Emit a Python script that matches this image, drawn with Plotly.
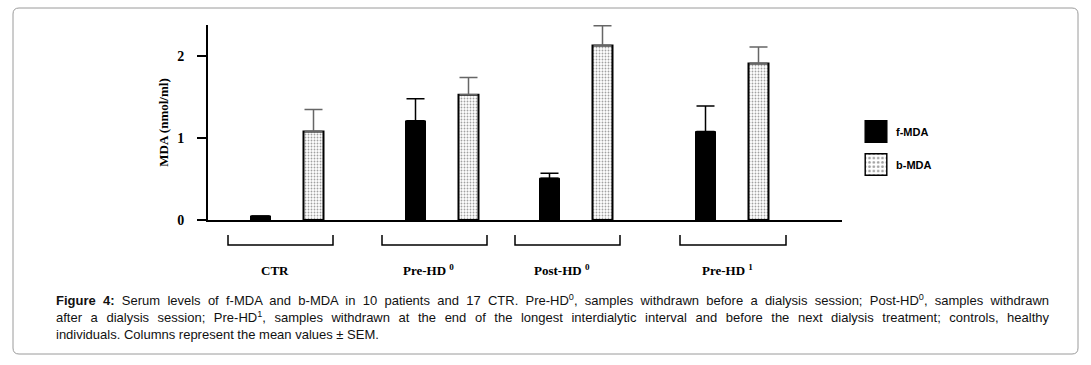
import plotly.graph_objects as go

# ---- data ----
groups = ["CTR", "Pre-HD <sup>0</sup>", "Post-HD <sup>0</sup>", "Pre-HD <sup>1</sup>"]
f_mda = [0.05, 1.21, 0.51, 1.08]
f_sem = [0.0, 0.27, 0.06, 0.31]
b_mda = [1.08, 1.53, 2.13, 1.91]
b_sem = [0.27, 0.21, 0.24, 0.20]

caption_lines = [
    "<b>Figure 4:</b> Serum levels of f-MDA and b-MDA in 10 patients and 17 CTR. "
    "Pre-HD<sup>0</sup>, samples withdrawn before a dialysis session; Post-HD<sup>0</sup>, samples withdrawn",
    "after a dialysis session; Pre-HD<sup>1</sup>, samples withdrawn at the end of the longest "
    "interdialytic interval and before the next dialysis treatment; controls, healthy",
    "individuals. Columns represent the mean values ± SEM.",
]

# ---- layout constants (pixel geometry of the page) ----
W, H = 1091, 365
L, R, T, B = 208, 249, 25, 145
PW, PH = W - L - R, H - T - B
CAP_X0, CAP_X1 = 55, 1048   # caption text block (justified lines)

def px(x):  # page x pixel -> paper
    return (x - L) / PW

def py(y):  # page y pixel -> paper
    return (T + PH - y) / PH

def ux(x):  # page x pixel -> x-axis units (range 0..10)
    return (x - L) / PW * 10

group_centers = [ux(287), ux(442), ux(576), ux(732)]
bracket_spans = [(ux(228), ux(333)), (ux(382), ux(487)), (ux(515), ux(620)), (ux(680), ux(786))]
off, bw = ux(208 + 26.5), ux(208 + 20)

serif = "Liberation Serif"
sans = "Liberation Sans"

fig = go.Figure()
fig.add_trace(go.Bar(
    name="f-MDA", x=[c - off for c in group_centers], y=f_mda, width=bw,
    marker=dict(color="black", line=dict(color="black", width=1)),
    error_y=dict(type="data", symmetric=False,
                 array=[v if v > 0 else None for v in f_sem],
                 arrayminus=[0] * len(f_sem),
                 color="black", thickness=1.5, width=9),
    legendgroup="f",
))
fig.add_trace(go.Bar(
    name="b-MDA", x=[c + off for c in group_centers], y=b_mda, width=bw,
    marker=dict(color="white", line=dict(color="black", width=2),
                pattern=dict(shape=".", fgcolor="#444444", bgcolor="white",
                             size=3, solidity=0.3)),
    error_y=dict(type="data", symmetric=False, array=b_sem,
                 arrayminus=[0] * len(b_sem),
                 color="#666666", thickness=1.5, width=9),
    legendgroup="b",
))

shapes = []
annotations = []
for (x0, x1), lab in zip(bracket_spans, groups):
    shapes.append(dict(type="path", xref="x", yref="paper",
                       path=f"M {x0},{py(235)} L {x0},{py(245)} L {x1},{py(245)} L {x1},{py(235)}",
                       line=dict(color="black", width=1.5)))
    annotations.append(dict(x=(x0 + x1) / 2 - ux(208 + 6), y=py(270), xref="x", yref="paper",
                            text=f"<b>{lab}</b>", showarrow=False,
                            font=dict(family=serif, size=13, color="black"),
                            xanchor="center", yanchor="middle"))

# caption box (rounded rectangle)
bx0, bx1, by0, by1 = px(13), px(1078), py(354), py(8)
rx, ry = 6 / PW, 6 / PH
box = (f"M {bx0+rx},{by1} L {bx1-rx},{by1} Q {bx1},{by1} {bx1},{by1-ry} "
       f"L {bx1},{by0+ry} Q {bx1},{by0} {bx1-rx},{by0} "
       f"L {bx0+rx},{by0} Q {bx0},{by0} {bx0},{by0+ry} "
       f"L {bx0},{by1-ry} Q {bx0},{by1} {bx0+rx},{by1} Z")
shapes.append(dict(type="path", xref="paper", yref="paper", path=box,
                   line=dict(color="#9a9a9a", width=1), layer="below"))

for i, line in enumerate(caption_lines):
    annotations.append(dict(x=px(CAP_X0), y=py(300 + 17 * i), xref="paper", yref="paper",
                            text=line, showarrow=False, align="left",
                            xanchor="left", yanchor="middle", borderpad=0,
                            font=dict(family=sans, size=13, color="#111111")))

fig.update_layout(
    width=W, height=H,
    margin=dict(l=L, r=R, t=T, b=B, autoexpand=False),
    paper_bgcolor="white", plot_bgcolor="white",
    barmode="overlay",
    showlegend=True,
    legend=dict(x=px(856), y=py(117), xanchor="left", yanchor="top",
                font=dict(family=sans, size=11, color="black", weight="bold"),
                tracegroupgap=14, bgcolor="rgba(0,0,0,0)", itemwidth=30),
    xaxis=dict(range=[0, 10], showline=True, linecolor="black", linewidth=2,
               showticklabels=False, ticks="", showgrid=False, zeroline=False),
    yaxis=dict(range=[0, 2.38], showline=True, linecolor="black", linewidth=2,
               tickvals=[0, 1, 2], ticks="outside", ticklen=9, tickwidth=2,
               tickcolor="black", showgrid=False, zeroline=False,
               ticklabelstandoff=10,
               tickfont=dict(family=serif, size=14, color="black", weight="bold"),
               title=dict(text="MDA (nmol/ml)", standoff=6,
                          font=dict(family=serif, size=13, color="black", weight="bold"))),
    shapes=shapes, annotations=annotations,
)

# page tweaks: no body margin, larger legend swatches, justified caption lines
post_js = """
document.body.style.margin='0';document.body.style.overflow='hidden';
var gd = document.getElementById('{plot_id}');
gd.querySelectorAll('.legend .legendpoints path').forEach(function(p){
  var tr = p.getAttribute('transform') || '';
  p.setAttribute('transform', tr + ' scale(1.8)');
  p.style.strokeWidth = '0.8px';
});
var target = %d;
gd.querySelectorAll('text.annotation-text').forEach(function(t){
  var s = t.textContent || '';
  if (s.indexOf('Figure 4:') === 0 || s.indexOf('after a dialysis') === 0) {
    var len = t.getComputedTextLength();
    var n = (s.match(/ /g) || []).length;
    if (n > 0 && target > len) { t.style.wordSpacing = ((target - len) / n) + 'px'; }
  }
});
""" % (CAP_X1 - CAP_X0)

fig.write_html("out.html", config={"displayModeBar": False}, post_script=post_js)
